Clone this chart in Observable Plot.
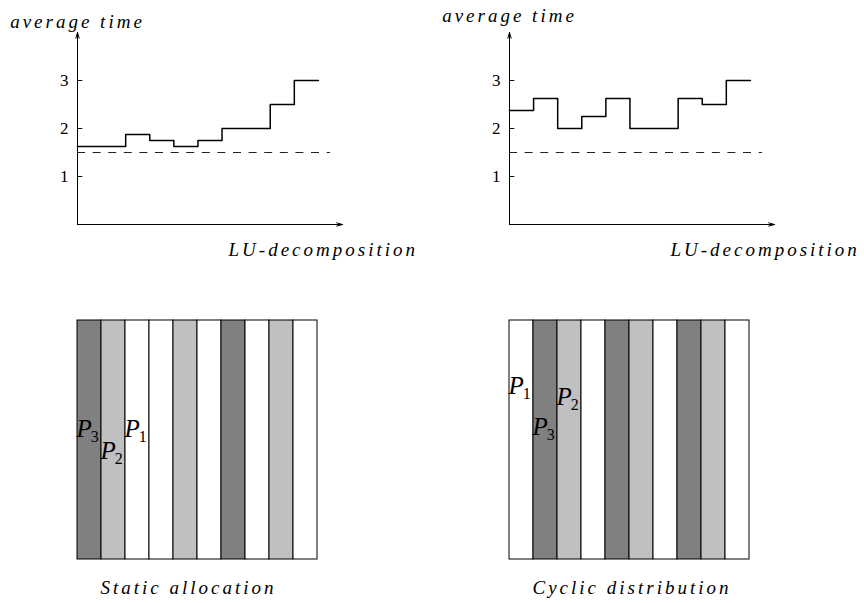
<!DOCTYPE html>
<html><head><meta charset="utf-8">
<script src="https://cdn.jsdelivr.net/npm/d3@7"></script>
<script src="https://cdn.jsdelivr.net/npm/@observablehq/plot@0.6"></script>
<style>
html,body{margin:0;padding:0;background:#fff;}
#root{position:relative;width:864px;height:603px;overflow:hidden;background:#fff;}
#root > div{position:absolute;}
#root svg{overflow:visible;background:transparent;}
#root svg text{font-family:"Liberation Serif","Times New Roman",serif;}
g[font-style="italic"] text{letter-spacing:3px;}
</style></head><body><div id="root"></div>
<script>
// ---- data ----
const xDomain = [0, 11];
const yDomain = [0, 4];
const yTicks = [1, 2, 3];
const staticTimes = [1.625, 1.625, 1.875, 1.75, 1.625, 1.75, 2, 2, 2.5, 3];
const cyclicTimes = [2.375, 2.625, 2, 2.25, 2.625, 2, 2, 2.625, 2.5, 3];
const idealTime = 1.5;
const idealEnd = 10.5;
const yTitle = "average time";
const xTitle = "LU-decomposition";
const procs = ["P1", "P2", "P3"];
const procFills = ["#ffffff", "#c0c0c0", "#808080"];
const staticProcs = ["P3", "P2", "P1", "P1", "P2", "P1", "P3", "P1", "P2", "P1"];
const cyclicProcs = ["P1", "P3", "P2", "P1", "P3", "P2", "P1", "P3", "P2", "P1"];
const staticLabels = [
  {proc: "P3", col: 0, level: 0.548},
  {proc: "P2", col: 1, level: 0.452},
  {proc: "P1", col: 2, level: 0.548}
];
const cyclicLabels = [
  {proc: "P1", col: 0, level: 0.726},
  {proc: "P2", col: 2, level: 0.678},
  {proc: "P3", col: 1, level: 0.554}
];
const staticCaption = "Static allocation";
const cyclicCaption = "Cyclic distribution";

const FONT = "Liberation Serif";
const SVGNS = "http://www.w3.org/2000/svg";
const LABEL_SIZE = 25;
const TITLE_SIZE = 19;

function timeChart(times, cfg) {
  const pts = times.map((t, i) => ({seg: i, t}));
  pts.push({seg: times.length, t: times[times.length - 1]});
  return Plot.plot({
    width: 432, height: 280,
    marginLeft: 77, marginRight: 90, marginTop: 32, marginBottom: 56,
    x: {domain: xDomain, axis: null, label: null},
    y: {domain: yDomain, axis: null, label: null},
    marks: [
      Plot.arrow([0], {x1: xDomain[0], y1: yDomain[0], x2: xDomain[1], y2: yDomain[0],
        stroke: "black", strokeWidth: 1, headLength: 9, headAngle: 32}),
      Plot.arrow([0], {x1: xDomain[0], y1: yDomain[0], x2: xDomain[0], y2: yDomain[1],
        stroke: "black", strokeWidth: 1, headLength: 9, headAngle: 32}),
      Plot.axisY({ticks: yTicks, tickSize: 0, tickPadding: 9, label: null,
        fontSize: 17, fontFamily: FONT, tickFormat: d => String(d), fill: "black"}),
      Plot.ruleY(yTicks, {x1: 0, x2: 0.22, stroke: "black", strokeWidth: 1}),
      Plot.ruleY([idealTime], {x1: 0, x2: idealEnd, stroke: "#222", strokeWidth: 1.1,
        strokeDasharray: "8,7.6"}),
      Plot.line(pts, {x: "seg", y: "t", curve: "step-after", stroke: "black", strokeWidth: 1.5}),
      Plot.text([yTitle], {x: xDomain[0], y: yDomain[1], text: d => d, dy: cfg.titleDy,
        textAnchor: "middle", fontStyle: "italic", fontSize: TITLE_SIZE, fontFamily: FONT, fill: "black"}),
      Plot.text([xTitle], {x: cfg.xTitleX, y: yDomain[0], text: d => d, dy: 25,
        textAnchor: "start", fontStyle: "italic", fontSize: TITLE_SIZE, fontFamily: FONT, fill: "black"})
    ]
  });
}

function subscriptify(svg) {
  svg.querySelectorAll(`g[font-size="${LABEL_SIZE}"] text`).forEach(t => {
    const s = t.textContent;
    t.textContent = "";
    const base = document.createElementNS(SVGNS, "tspan");
    base.setAttribute("font-style", "italic");
    base.textContent = s.slice(0, 1);
    const sub = document.createElementNS(SVGNS, "tspan");
    sub.setAttribute("font-style", "normal");
    sub.setAttribute("font-size", "16");
    sub.setAttribute("dy", "5");
    sub.setAttribute("dx", "-1");
    sub.textContent = s.slice(1);
    t.appendChild(base);
    t.appendChild(sub);
  });
  return svg;
}

function allocPanel(procList, labels, caption) {
  const cells = procList.map((p, i) => ({col: i, proc: p}));
  const svg = Plot.plot({
    width: 432, height: 303,
    marginLeft: 77, marginRight: 115, marginTop: 20, marginBottom: 44,
    x: {domain: [0, procList.length], axis: null, label: null},
    y: {domain: [0, 1], axis: null, label: null},
    color: {type: "ordinal", domain: procs, range: procFills},
    marks: [
      Plot.rect(cells, {x1: "col", x2: d => d.col + 1, y1: 0, y2: 1, fill: "proc",
        stroke: "black", strokeWidth: 1}),
      Plot.text(labels, {x: "col", y: "level", text: "proc", dx: -1, textAnchor: "start",
        fontSize: LABEL_SIZE, fontFamily: FONT, fill: "black"}),
      Plot.text([caption], {x: 1, y: 0, text: d => d, dx: -1, dy: 28, textAnchor: "start",
        fontStyle: "italic", fontSize: TITLE_SIZE, fontFamily: FONT, fill: "black"})
    ]
  });
  return subscriptify(svg);
}

const root = document.getElementById("root");
function place(node, left, top) {
  const d = document.createElement("div");
  d.style.left = left + "px";
  d.style.top = top + "px";
  d.appendChild(node);
  root.appendChild(d);
}
place(timeChart(staticTimes, {titleDy: -11, xTitleX: 6.27}), 0, 0);
place(timeChart(cyclicTimes, {titleDy: -17, xTitleX: 6.68}), 432, 0);
place(allocPanel(staticProcs, staticLabels, staticCaption), 0, 300);
place(allocPanel(cyclicProcs, cyclicLabels, cyclicCaption), 432, 300);
</script></body></html>
